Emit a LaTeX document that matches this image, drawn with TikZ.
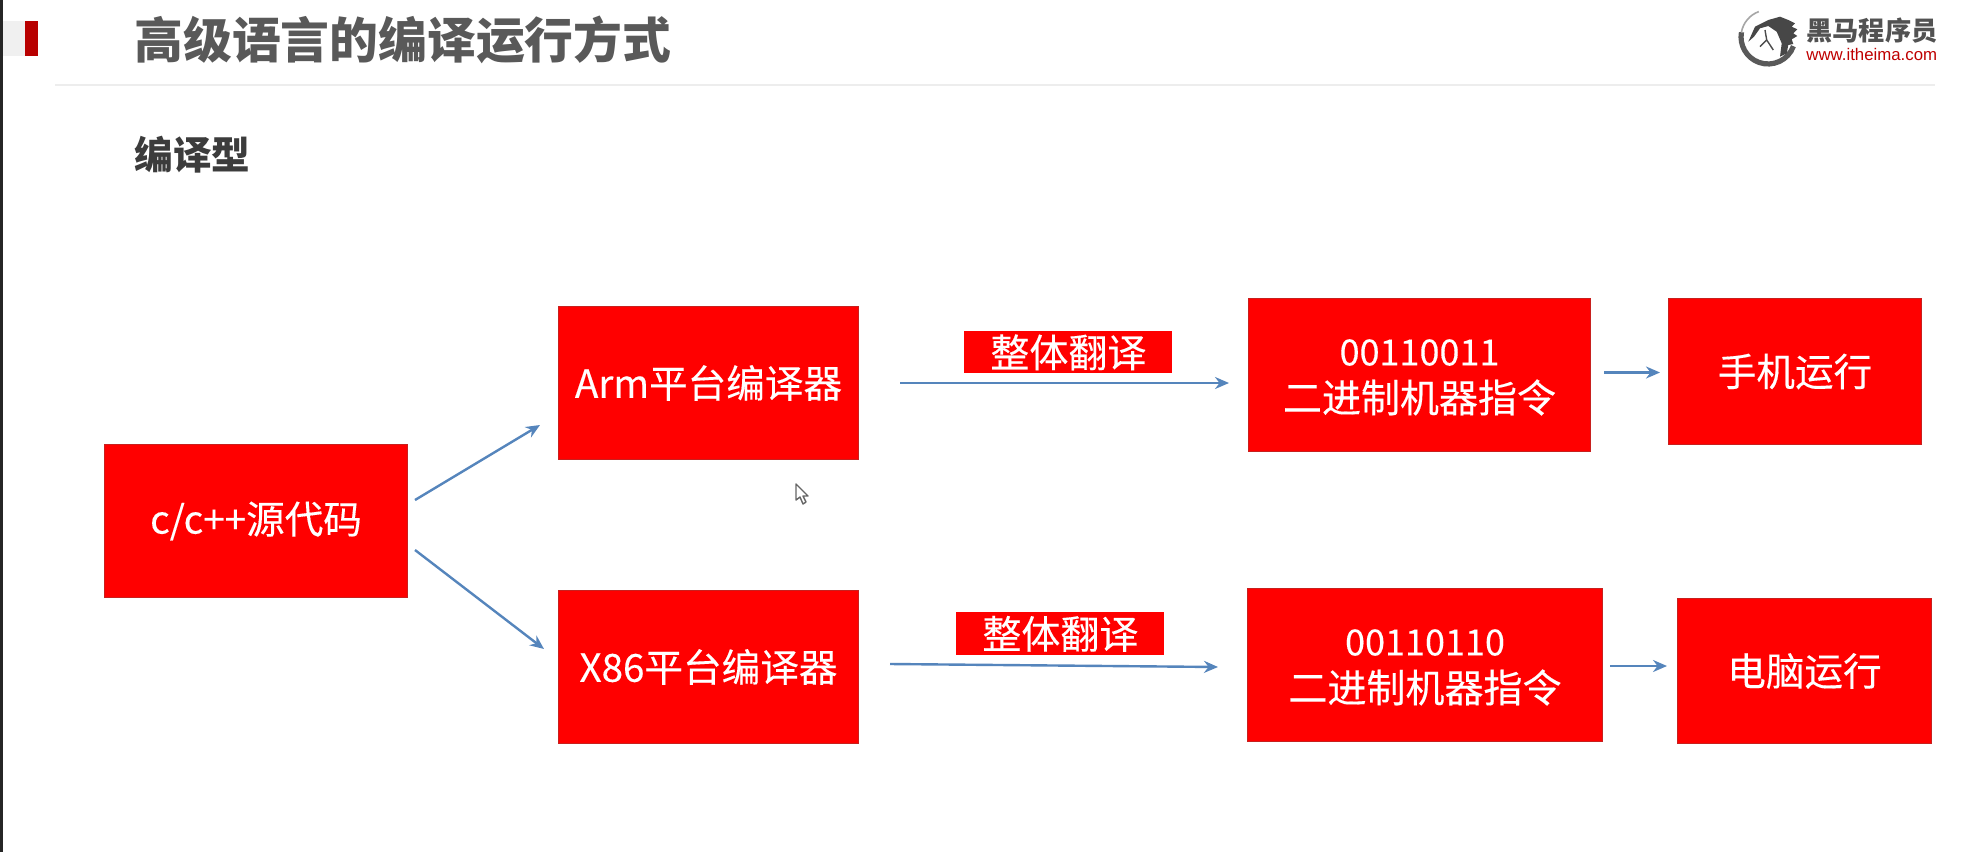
\documentclass[tikz,border=0pt]{standalone}
\usepackage{fontspec}
\setmainfont{Noto Sans CJK SC}
\newfontfamily\boxfont{Noto Sans CJK SC}[FakeBold=0.25]
\newfontfamily\arialfont{Liberation Sans}
\usetikzlibrary{calc,arrows.meta}
\definecolor{boxred}{HTML}{FF0000}
\definecolor{boxedge}{HTML}{C8201E}
\definecolor{arrowblue}{HTML}{5585BC}
\definecolor{titlegray}{HTML}{595959}
\definecolor{subgray}{HTML}{3C3C3C}
\definecolor{barred}{HTML}{B80000}
\newcommand{\digitsize}{\fontsize{18}{23.5}\selectfont}
\newcommand{\twoline}[2]{\digitsize\rule{0pt}{15.5pt}#1\\[0pt]\fontsize{19.5}{23.5}\selectfont #2}
\tikzset{
 x=0.5pt,y=-0.5pt,
 redbox/.style={fill=boxred,draw=boxedge,line width=0.5pt,text=white,font=\boxfont\fontsize{19.3}{23.5}\selectfont,align=center,inner sep=0pt,anchor=north west},
 labelbox/.style={fill=boxred,text=white,font=\boxfont\fontsize{19.5}{25}\selectfont,inner sep=0pt,anchor=north west},
 flow/.style={draw=arrowblue,line width=1.2pt,-{Stealth[length=7pt,width=6pt]}},
 heading/.style={inner sep=0pt,anchor=west},
}
\newcommand{\boxat}[6]{\node[redbox,minimum width=#4*0.5pt,minimum height=#5*0.5pt] (#1) at (#2,#3) {#6};}
\begin{document}
\begin{tikzpicture}
\useasboundingbox (0,0) rectangle (1965,852);
\fill[white] (0,0) rectangle (1965,852);
% slide frame
\fill[black!85] (0,0) rectangle (2.5,852);
\fill[black!6] (2.5,21) rectangle (25,56);
\fill[barred] (25,21) rectangle (38,56);
\draw[black!7,line width=0.8pt] (55,85) -- (1935,85);
% headings
\node[heading,text=titlegray,font=\fontsize{24.4}{30}\bfseries\selectfont] (title) at (134,40) {高级语言的编译运行方式};
\node[heading,text=subgray,font=\fontsize{19.3}{24}\bfseries\selectfont] (kind) at (134,155) {编译型};
% logo
\draw[black!65,line width=2.6pt] (1793.4,46.2) arc (20:190:27);
\draw[black!35,line width=0.8pt] (1741.4,32.3) arc (190:250:27);
\fill[black!72] (1748.3,41.7) -- (1755,26.7) -- (1768.3,20) -- (1780,16.7) -- (1788.3,20) -- (1795,23.3) -- (1791.7,26.7) -- (1797.3,29.3) -- (1793.3,33.3) -- (1797.3,36) -- (1791.7,39.3) -- (1793.3,44) -- (1788.3,45) -- (1786.7,53.3) -- (1780,56.7) -- (1781.7,43.3) -- (1776.7,31.7) -- (1768.3,26) -- (1760,28.3) -- (1754,36.7) -- cycle;
\draw[black!70,line width=0.7pt] (1765,30) -- (1766.7,40) -- (1760,46.7) (1766.7,40) -- (1773.3,50);
\node[heading,text=black!68,font=\fontsize{13.1}{15}\bfseries\selectfont] (brand) at (1806,31) {黑马程序员};
\node[heading,text=red!75!black,font=\arialfont\fontsize{8.4}{10}\selectfont] (site) at (1806,54) {www.itheima.com};
% boxes
\boxat{src}{104}{444}{303}{153}{c/c++源代码}
\boxat{arm}{558}{306}{300}{153}{Arm平台编译器}
\boxat{xes}{558}{590}{300}{153}{X86平台编译器}
\boxat{bina}{1248}{298}{342}{153}{\twoline{00110011}{二进制机器指令}}
\boxat{binb}{1247}{588}{355}{153}{\twoline{00110110}{二进制机器指令}}
\boxat{phone}{1668}{298}{253}{146}{手机运行}
\boxat{pc}{1677}{598}{254}{145}{电脑运行}
\node[labelbox,minimum width=104pt,minimum height=21pt] (la) at (964,331) {整体翻译};
\node[labelbox,minimum width=104pt,minimum height=21.5pt] (lb) at (956,612) {整体翻译};
% connectors
\draw[flow] ($(src.east)+(7,-21)$) -- ($(arm.west)+(-18,42)$);
\draw[flow] ($(src.east)+(7,29)$) -- ($(xes.west)+(-14,-18)$);
\draw[flow] ($(arm.east)+(41,0)$) -- ($(bina.west)+(-19,8)$);
\draw[flow] ($(xes.east)+(31,-3)$) -- ($(binb.west)+(-29,2)$);
\draw[flow] ($(bina.east)+(13,-2.5)$) -- ($(phone.west)+(-8,1)$);
\draw[flow] ($(binb.east)+(7,1)$) -- ($(pc.west)+(-10,-5)$);
% cursor
\draw[black!60,fill=white,line width=0.7pt,line join=round] (796,484) -- (796,500) -- (800,497) -- (803,504) -- (806,502) -- (803,496) -- (808,496) -- cycle;
\end{tikzpicture}
\end{document}
